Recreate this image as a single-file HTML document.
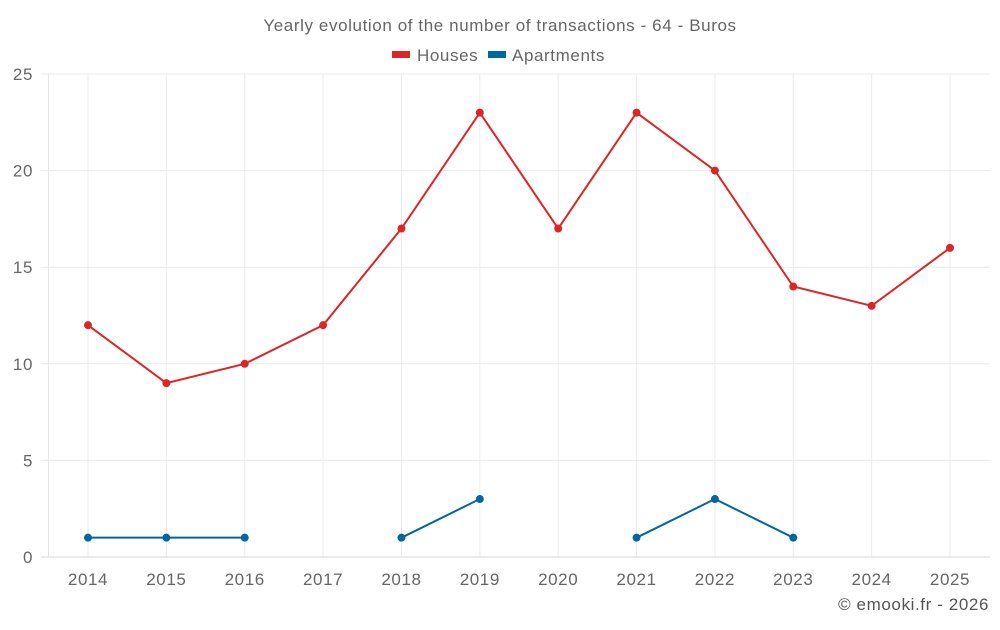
<!DOCTYPE html>
<html><head><meta charset="utf-8"><style>
body{margin:0;background:#fff;font-family:"Liberation Sans",sans-serif;}
svg text{font-family:"Liberation Sans",sans-serif;letter-spacing:0.6px;}
</style></head><body>
<svg id="c" width="1000" height="625">
<text x="500" y="31" text-anchor="middle" font-size="17" fill="#666">Yearly evolution of the number of transactions - 64 - Buros</text>
<g>
<g><rect x="392" y="51" width="18" height="7" fill="#dc2626"/><text x="417" y="61" font-size="17" fill="#666">Houses</text></g>
<g><rect x="488" y="51" width="18" height="7" fill="#0067a0"/><text x="512" y="61" font-size="17" fill="#666">Apartments</text></g>
</g>
<g id="grid"></g><g id="marks"></g>
<text x="989" y="610" text-anchor="end" font-size="17" fill="#555">© emooki.fr - 2026</text>
</svg>
<script>
const years=[2014,2015,2016,2017,2018,2019,2020,2021,2022,2023,2024,2025];
const houses=[12,9,10,12,17,23,17,23,20,14,13,16];
const apartments=[1,1,1,null,1,3,null,1,3,1,null,null];
const yTicks=[0,5,10,15,20,25];
const NS="http://www.w3.org/2000/svg";
const g=document.getElementById('grid'),m=document.getElementById('marks');
const x0=88,dx=(950-88)/11,yb=557,yt=74,ymax=25;
const X=i=>x0+i*dx, Y=v=>yb-(v/ymax)*(yb-yt);
function el(t,a,p){const e=document.createElementNS(NS,t);for(const k in a)e.setAttribute(k,a[k]);p.appendChild(e);return e;}
el('line',{x1:48.5,x2:48.5,y1:yt,y2:yb,stroke:'#e6e6e6'},g);
years.forEach((yr,i)=>{
 const l=el('line',{x1:X(i),x2:X(i),y1:yt,y2:yb,stroke:'#ececec'},g);
 
 
 const t=el('text',{x:X(i),y:585,'text-anchor':'middle','font-size':17,fill:'#666'},g);
 t.textContent=yr;
 
 
});
yTicks.forEach(v=>{
 const l=el('line',{x1:41,x2:990,y1:Y(v),y2:Y(v),stroke:v?'#ececec':'#d8d8d8'},g);
 
 
 const t=el('text',{x:33,y:Y(v)+6,'text-anchor':'end','font-size':17,fill:'#666'},g);
 t.textContent=v;
 
 
});
function series(vals,color,name){
 let d='',pen=false;
 vals.forEach((v,i)=>{if(v==null){pen=false;return;}d+=(pen?'L':'M')+X(i)+' '+Y(v);pen=true;});
 const p=el('path',{d:d,fill:'none',stroke:color,'stroke-width':2},m);
 
 
 vals.forEach((v,i)=>{if(v==null)return;
  const c=el('circle',{cx:X(i),cy:Y(v),r:4,fill:color},m);
  
  
 });
}
series(houses,'#dc2626','houses');
series(apartments,'#0067a0','apartments');
</script>
</body></html>
